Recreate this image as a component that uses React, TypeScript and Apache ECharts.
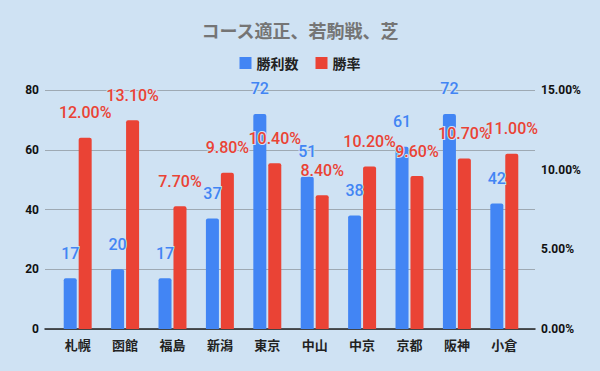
import React, { useEffect, useRef } from "react";
import * as echarts from "echarts";

const categories = ["札幌", "函館", "福島", "新潟", "東京", "中山", "中京", "京都", "阪神", "小倉"];
const wins = [17, 20, 17, 37, 72, 51, 38, 61, 72, 42];
const winRate = [12.0, 13.1, 7.7, 9.8, 10.4, 8.4, 10.2, 9.6, 10.7, 11.0];
const leftTicks = { min: 0, max: 80, interval: 20 };
const rightTicks = { min: 0, max: 15, interval: 5 };

const FONT = "Roboto, 'Noto Sans CJK JP', sans-serif";

export default function App() {
  const ref = useRef<HTMLDivElement>(null);
  useEffect(() => {
    if (!ref.current) return;
    const chart = echarts.init(ref.current, null, { renderer: "svg" });
    const top = 90;
    const bottom = 42;
    chart.setOption({
      animation: false,
      backgroundColor: "#cfe2f3",
      title: {
        text: "コース適正、若駒戦、芝",
        left: "center",
        top: 16,
        textStyle: { color: "#757575", fontSize: 18, fontWeight: "bold", fontFamily: "'Noto Sans CJK JP', sans-serif" },
      },
      legend: {
        top: 51,
        left: "center",
        itemWidth: 12,
        itemHeight: 12,
        itemGap: 17,
        icon: "rect",
        textStyle: { color: "#222", fontSize: 14, fontWeight: "bold", fontFamily: "'Noto Sans CJK JP', sans-serif" },
        data: ["勝利数", "勝率"],
      },
      grid: [
        { left: 45, right: 65, top, bottom },
        { left: 54, right: 72, top, bottom },
      ],
      xAxis: [
        {
          type: "category",
          gridIndex: 0,
          data: [""],
          axisLine: { lineStyle: { color: "#222", width: 1.5 } },
          axisTick: { show: false },
          axisLabel: { show: false },
        },
        {
          type: "category",
          gridIndex: 1,
          data: categories,
          axisLine: { show: false },
          axisTick: { show: false },
          axisLabel: { color: "#222", fontSize: 13, fontWeight: "bold", margin: 9, fontFamily: "'Noto Sans CJK JP', sans-serif" },
        },
      ],
      yAxis: [
        {
          type: "value",
          gridIndex: 0,
          ...leftTicks,
          axisLine: { show: false },
          axisTick: { show: false },
          splitLine: { lineStyle: { color: "#9ea9b3", width: 1 } },
          axisLabel: { color: "#111", fontSize: 12, fontWeight: "bold", margin: 6, fontFamily: FONT },
        },
        {
          type: "value",
          gridIndex: 0,
          position: "right",
          ...rightTicks,
          axisLine: { show: false },
          axisTick: { show: false },
          splitLine: { show: false },
          axisLabel: {
            color: "#111",
            fontSize: 12,
            fontWeight: "bold",
            margin: 6,
            fontFamily: FONT,
            formatter: (v: number) => v.toFixed(2) + "%",
          },
        },
        {
          type: "value",
          gridIndex: 1,
          ...leftTicks,
          show: false,
          splitLine: { show: false },
        },
        {
          type: "value",
          gridIndex: 1,
          ...rightTicks,
          show: false,
          splitLine: { show: false },
        },
      ],
      series: [
        {
          name: "勝利数",
          type: "bar",
          xAxisIndex: 1,
          yAxisIndex: 2,
          data: wins,
          barGap: "15%",
          barCategoryGap: "41%",
          itemStyle: { color: "#4285f4", borderRadius: [2, 2, 0, 0] },
          label: {
            show: true,
            position: "top",
            distance: 17,
            color: "#4285f4",
            fontSize: 16,
            fontWeight: 500,
            fontFamily: FONT,
            textBorderColor: "#cfe2f3",
            textBorderWidth: 2,
          },
        },
        {
          name: "勝率",
          type: "bar",
          xAxisIndex: 1,
          yAxisIndex: 3,
          data: winRate,
          barGap: "15%",
          barCategoryGap: "41%",
          itemStyle: { color: "#ea4335", borderRadius: [2, 2, 0, 0] },
          label: {
            show: true,
            position: "top",
            distance: 17,
            color: "#ea4335",
            fontSize: 16,
            fontWeight: 500,
            fontFamily: FONT,
            textBorderColor: "#cfe2f3",
            textBorderWidth: 2,
            formatter: (p: any) => Number(p.value).toFixed(2) + "%",
          },
        },
      ],
    });
    return () => chart.dispose();
  }, []);
  return <div ref={ref} style={{ width: 600, height: 371, position: "absolute", left: 0, top: 0 }} />;
}
